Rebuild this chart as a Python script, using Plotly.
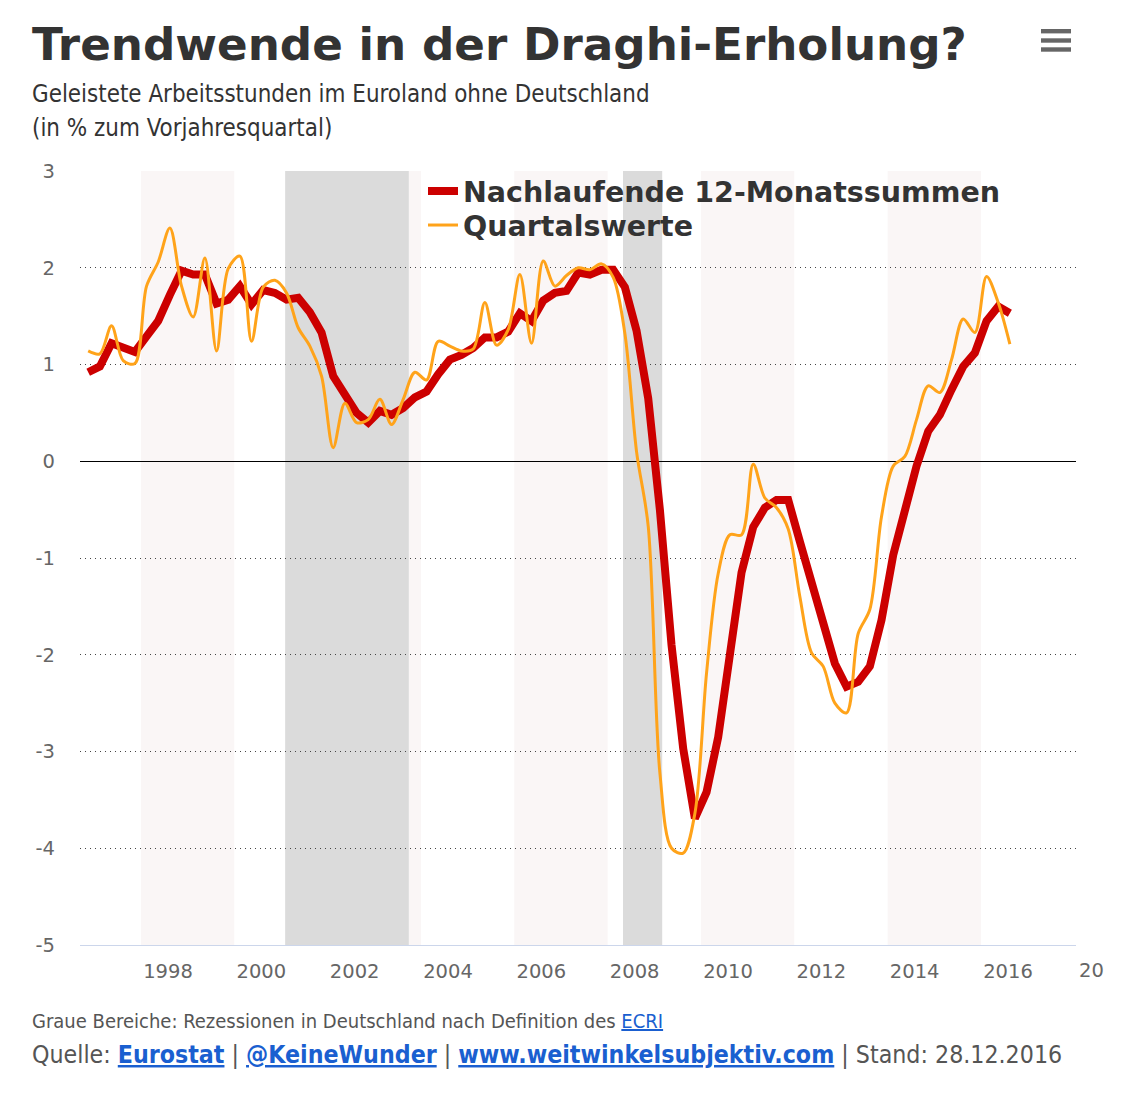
import plotly.graph_objects as go

# ---------------- data ----------------
# quarterly observations, first one plotted at ~1996.29 (axis in decimal years)
first_quarter_pos = 1996.29
quarter_step = 0.25

trailing_12m = [
    0.92, 0.98, 1.22, 1.17, 1.13, 1.29, 1.45, 1.72, 1.97, 1.93,
    1.93, 1.63, 1.67, 1.81, 1.62, 1.77, 1.74, 1.67, 1.69, 1.54,
    1.33, 0.88, 0.67, 0.50, 0.40, 0.52, 0.48, 0.55, 0.66, 0.72,
    0.90, 1.05, 1.10, 1.17, 1.28, 1.28, 1.34, 1.53, 1.45, 1.66,
    1.74, 1.76, 1.95, 1.93, 1.98, 1.98, 1.80, 1.35, 0.65, -0.50,
    -1.90, -2.97, -3.69, -3.42, -2.85, -1.95, -1.15, -0.68, -0.48, -0.40,
    -0.40, -0.83, -1.27, -1.71, -2.09, -2.33, -2.28, -2.12, -1.64, -0.97,
    -0.48, -0.05, 0.31, 0.48, 0.74, 0.98, 1.12, 1.45, 1.60, 1.53,
]

quarterly = [
    1.14, 1.11, 1.40, 1.04, 1.01, 1.81, 2.06, 2.41, 1.81, 1.49,
    2.10, 1.14, 1.99, 2.12, 1.24, 1.80, 1.87, 1.74, 1.38, 1.19,
    0.88, 0.14, 0.60, 0.40, 0.43, 0.64, 0.38, 0.64, 0.92, 0.84,
    1.24, 1.19, 1.14, 1.16, 1.64, 1.20, 1.36, 1.93, 1.22, 2.07,
    1.81, 1.92, 2.00, 1.98, 2.04, 1.90, 1.32, 0.10, -0.67, -3.22,
    -4.00, -4.05, -3.64, -2.19, -1.16, -0.76, -0.76, -0.03, -0.38, -0.48,
    -0.70, -1.40, -1.98, -2.12, -2.50, -2.60, -1.78, -1.53, -0.57, -0.05,
    0.05, 0.43, 0.78, 0.71, 1.05, 1.47, 1.33, 1.91, 1.64, 1.21,
]

x_pos = [round(first_quarter_pos + quarter_step * i, 4) for i in range(len(trailing_12m))]

# alternating light bands and grey recession bands (decimal years on the axis)
light_bands = [(1997.42, 1999.42), (2001.42, 2003.42), (2005.42, 2007.42),
               (2009.42, 2011.42), (2013.42, 2015.42)]
recession_bands = [(2000.51, 2003.16), (2007.75, 2008.59)]

x_ticks = [1998, 2000, 2002, 2004, 2006, 2008, 2010, 2012, 2014, 2016]
x_ticktext = [str(t) for t in x_ticks]
y_ticks = [3, 2, 1, 0, -1, -2, -3, -4, -5]
y_ticktext = [str(t) for t in y_ticks]

series_names = ["Nachlaufende 12-Monatssummen", "Quartalswerte"]

# ---------------- figure ----------------
# the page body has an 8px margin, so the figure is laid out in
# page pixels minus that offset
OFF = 8
W, H = 1122 - 2 * OFF, 1102 - 2 * OFF
PLOT_L, PLOT_R, PLOT_T, PLOT_B = 80, 1076, 171, 945  # page pixels of plot area
L, T = PLOT_L - OFF, PLOT_T - OFF
R, B = W - (PLOT_R - OFF), H - (PLOT_B - OFF)
PW, PH = PLOT_R - PLOT_L, PLOT_B - PLOT_T


def px_x(px):
    return (px - PLOT_L) / PW


def px_y(py):
    return (PLOT_B - py) / PH


COND = "DejaVu Sans Condensed, DejaVu Sans, sans-serif"
SANS = "DejaVu Sans, Verdana, sans-serif"
LINK = "#1a5fd0"

fig = go.Figure()
fig.add_trace(go.Scatter(
    x=x_pos, y=trailing_12m, name=series_names[0], mode="lines",
    line=dict(color="#cc0000", width=8, shape="linear"), legend="legend",
))
fig.add_trace(go.Scatter(
    x=x_pos, y=quarterly, name=series_names[1], mode="lines",
    line=dict(color="#ffa31a", width=3, shape="spline", smoothing=0.9), legend="legend2",
))

shapes = []
for a, b in light_bands:
    shapes.append(dict(type="rect", xref="x", yref="paper", x0=a, x1=b, y0=0, y1=1,
                       fillcolor="#faf6f6", line=dict(width=0), layer="below"))
for a, b in recession_bands:
    shapes.append(dict(type="rect", xref="x", yref="paper", x0=a, x1=b, y0=0, y1=1,
                       fillcolor="#dbdbdb", line=dict(width=0), layer="below"))
# hamburger menu icon
for top in (29, 38.3, 47.3):
    shapes.append(dict(type="rect", xref="paper", yref="paper",
                       x0=px_x(1041), x1=px_x(1071), y0=px_y(top + 4.4), y1=px_y(top),
                       fillcolor="#666666", line=dict(width=0)))


def note(text, px, py, size, color, family=COND):
    return dict(text=text, xref="paper", yref="paper", x=px_x(px), y=px_y(py),
                xanchor="left", yanchor="middle", showarrow=False,
                font=dict(family=family, size=size, color=color))


annotations = [
    note("<b>Trendwende in der Draghi-Erholung?</b>", 30, 45, 45.2, "#333333", SANS),
    note("Geleistete Arbeitsstunden im Euroland ohne Deutschland", 30, 94, 23.9, "#333333"),
    note("(in % zum Vorjahresquartal)", 30, 128, 23.9, "#333333"),
    note("Graue Bereiche: Rezessionen in Deutschland nach Definition des "
         f"<span style='color:{LINK}'><u>ECRI</u></span>", 30, 1021, 20, "#555555"),
    note(f"Quelle: <span style='color:{LINK}'><b><u>Eurostat</u></b></span> | "
         f"<span style='color:{LINK}'><b><u>@KeineWunder</u></b></span> | "
         f"<span style='color:{LINK}'><b><u>www.weitwinkelsubjektiv.com</u></b></span> | "
         "Stand: 28.12.2016", 30, 1054, 24.7, "#555555"),
    note("20", 1077, 971, 19.5, "#666666", SANS),
]

legend_font = dict(family=SANS, size=28.5, color="#333333", weight="bold")

fig.update_layout(
    width=W, height=H,
    margin=dict(l=L, r=R, t=T, b=B, pad=0),
    paper_bgcolor="white", plot_bgcolor="white",
    showlegend=True,
    legend=dict(x=px_x(423), y=px_y(166), xanchor="left", yanchor="top",
                bgcolor="rgba(0,0,0,0)", itemwidth=30, font=legend_font),
    legend2=dict(x=px_x(423), y=px_y(200), xanchor="left", yanchor="top",
                 bgcolor="rgba(0,0,0,0)", itemwidth=30, font=legend_font),
    shapes=shapes,
    annotations=annotations,
    xaxis=dict(range=[1996.114, 2017.457], tickmode="array", tickvals=x_ticks,
               ticktext=x_ticktext, showgrid=False, zeroline=False,
               showline=True, linecolor="#ccd6eb", linewidth=1,
               ticks="", ticklabelstandoff=9,
               tickfont=dict(family=SANS, size=19.5, color="#666666")),
    yaxis=dict(range=[-5, 3], tickmode="array", tickvals=y_ticks, ticktext=y_ticktext,
               showgrid=True, gridcolor="#444444", gridwidth=1, griddash="1px,4px",
               zeroline=True, zerolinecolor="#000000", zerolinewidth=1,
               showline=False, ticks="", ticklabelstandoff=24,
               tickfont=dict(family=SANS, size=19.5, color="#666666")),
)

fig.write_html("out.html")
